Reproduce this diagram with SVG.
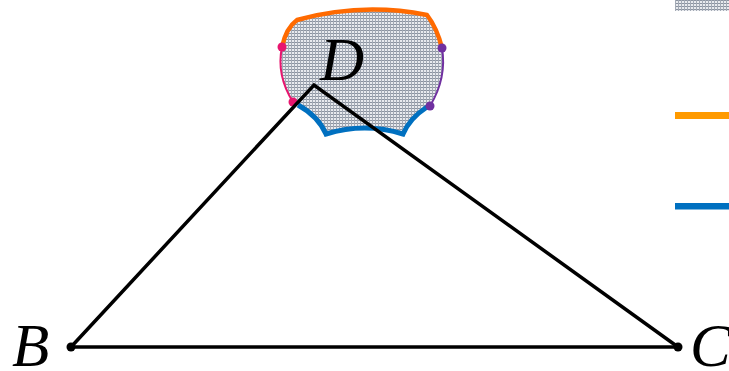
<svg xmlns="http://www.w3.org/2000/svg" width="729" height="371" viewBox="0 0 729 371">
<defs>
<pattern id="grid" width="3" height="3" patternUnits="userSpaceOnUse">
<rect width="3" height="3" fill="#e8eaee"/>
<rect x="0" y="0" width="3" height="1" fill="#8b93a0"/>
<rect x="0" y="0" width="1" height="3" fill="#a3aab5"/>
</pattern>
</defs>
<style>
.edge{stroke:#000;stroke-width:3.5;fill:none;stroke-linejoin:miter}
.lbl{font-family:"Liberation Serif","Times New Roman",serif;font-style:italic;font-size:61px;fill:#000}
.pt{fill:#000}
</style>
<g id="region">
<path d="M282,47 Q286,28 297,20 Q362,2 427,15 Q437,28 442,48 Q447,78 430,106 Q410,118 403,134 Q365,122 326,134 Q318,116 298,105 L293,102 Q276,75 282,47 Z" fill="url(#grid)"/>
<path d="M282,47 Q286,28 297,20 Q362,2 427,15 Q437,28 442,48" fill="none" stroke="#ff6a00" stroke-width="4.5"/>
<path d="M442,48 Q447,78 430,106" fill="none" stroke="#7030a0" stroke-width="2"/>
<path d="M293,102 Q276,75 282,47" fill="none" stroke="#e8156e" stroke-width="2"/>
<path d="M427,107 Q410,118 403,134 Q365,122 326,134 Q318,116 298,105" fill="none" stroke="#0070c0" stroke-width="5"/>
<circle cx="282" cy="47" r="4.5" fill="#e8156e"/>
<circle cx="293" cy="102" r="4.5" fill="#e8156e"/>
<circle cx="442" cy="48" r="4.5" fill="#7030a0"/>
<circle cx="430" cy="106" r="4.5" fill="#7030a0"/>
</g>
<g id="connectors">
<polyline class="edge" points="71,347 314,85 678,347"/>
<line class="edge" x1="71" y1="347" x2="678" y2="347"/>
</g>
<g id="D"><text class="lbl" x="320" y="80">D</text></g>
<g id="B"><circle class="pt" cx="71" cy="347" r="4.5"/><text class="lbl" x="12" y="366">B</text></g>
<g id="C"><circle class="pt" cx="678" cy="347" r="4.5"/><text class="lbl" x="690" y="366">C</text></g>
<g id="legend">
<rect x="675" y="0" width="54" height="11" fill="url(#grid)"/>
<rect x="675" y="112" width="54" height="7" fill="#ff9a00"/>
<rect x="675" y="203" width="54" height="6.5" fill="#0070c0"/>
</g>
</svg>
